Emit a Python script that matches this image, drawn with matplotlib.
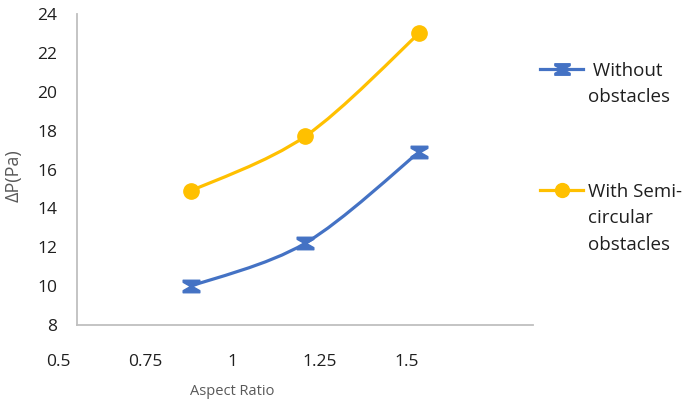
import matplotlib.pyplot as plt
from matplotlib.path import Path
from matplotlib.patches import PathPatch
from matplotlib.lines import Line2D
import numpy as np

plt.rcParams["font.family"] = ["Open Sans", "DejaVu Sans"]

aspect_ratio = [0.75, 1.0, 1.25]
dp_without = [10.0, 12.2, 16.9]
dp_semicircular = [14.9, 17.7, 23.0]
x_ticks = [0.5, 0.75, 1, 1.25, 1.5]
x_tick_labels = ["0.5", "0.75", "1", "1.25", "1.5"]
y_ticks = [8, 10, 12, 14, 16, 18, 20, 22, 24]
series_names = [" Without\nobstacles", "With Semi-\ncircular\nobstacles"]

BLUE = "#4472C4"
YELLOW = "#FFC000"
GRID = "#BFBFBF"
TEXT = "#1F1F1F"
LABEL = "#595959"

hourglass = Path(
    [(-1, 0.75), (1, 0.75), (1, 0.5), (0.12, 0), (1, -0.5), (1, -0.75),
     (-1, -0.75), (-1, -0.5), (-0.12, 0), (-1, 0.5), (-1, 0.75)],
    closed=True,
)


def smooth_path(xs, ys, t=1 / 6):
    # Catmull-Rom style bezier through the data points (like Excel smoothing)
    pts = np.column_stack([xs, ys]).astype(float)
    verts = [pts[0]]
    codes = [Path.MOVETO]
    n = len(pts)
    for i in range(n - 1):
        p0 = pts[i - 1] if i > 0 else pts[i]
        p1, p2 = pts[i], pts[i + 1]
        p3 = pts[i + 2] if i + 2 < n else pts[i + 1]
        c1 = p1 + (p2 - p0) * t
        c2 = p2 - (p3 - p1) * t
        verts += [c1, c2, p2]
        codes += [Path.CURVE4] * 3
    return Path(verts, codes)


fig = plt.figure(figsize=(6.87, 4.03), dpi=100)
ax = fig.add_axes([77 / 687, 78 / 403, 456 / 687, 311 / 403])

for ys, color, marker, ms in [
    (dp_without, BLUE, hourglass, 12),
    (dp_semicircular, YELLOW, "o", 11),
]:
    ax.add_patch(PathPatch(smooth_path(aspect_ratio, ys), fill=False,
                           edgecolor=color, lw=2.3, capstyle="round"))
    ax.plot(aspect_ratio, ys, linestyle="none", marker=marker, ms=ms,
            color=color, mec=color)

ax.set_xlim(0.5, 1.5)
ax.set_ylim(8, 24)
ax.set_xticks(x_ticks)
ax.set_xticklabels([])
ax.set_yticks(y_ticks)
ax.tick_params(axis="both", length=0)
ax.tick_params(axis="y", pad=14, labelsize=12.5, labelcolor=TEXT)
for side in ["top", "right"]:
    ax.spines[side].set_visible(False)
for side in ["left", "bottom"]:
    ax.spines[side].set_color(GRID)
    ax.spines[side].set_linewidth(1.3)
ax.set_ylabel("ΔP(Pa)", fontsize=13, color=LABEL)
ax.yaxis.set_label_coords(-0.12, 0.48)

# tick labels of the x axis sit on their own (slightly shifted) scale
lab = fig.add_axes([58 / 687, 78 / 403, 349 / 687, 0.001])
lab.set_xlim(0.5, 1.5)
lab.set_xticks(x_ticks)
lab.set_xticklabels(x_tick_labels)
lab.set_yticks([])
lab.patch.set_visible(False)
for s in lab.spines.values():
    s.set_visible(False)
lab.tick_params(axis="x", length=0, pad=21, labelsize=12.5, labelcolor=TEXT)
lab.set_xlabel("Aspect Ratio", fontsize=10.5, color=LABEL, labelpad=10)

# legend on the right
for (y_px, color, marker, ms), name in zip(
    [(69, BLUE, hourglass, 11), (190, YELLOW, "o", 10)], series_names
):
    yf = 1 - y_px / 403
    fig.add_artist(Line2D([540 / 687, 583 / 687], [yf, yf], color=color,
                          lw=2.3, transform=fig.transFigure))
    fig.add_artist(Line2D([561.5 / 687], [yf], marker=marker, ms=ms,
                          color=color, mec=color, transform=fig.transFigure))
    fig.text(588 / 687, yf + 7 / 403, name, fontsize=13.5, color=TEXT,
             va="top", ha="left", linespacing=1.6)

fig.savefig("out.png", dpi=100)
